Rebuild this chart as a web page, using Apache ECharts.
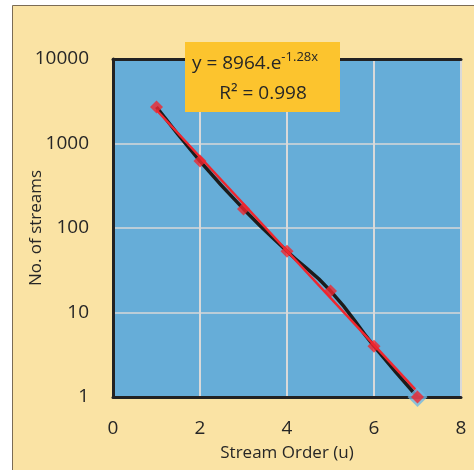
<!DOCTYPE html>
<html>
<head>
<meta charset="utf-8">
<script src="https://cdn.jsdelivr.net/npm/echarts@6/dist/echarts.min.js"></script>
<style>html,body{margin:0;padding:0;background:#fff}#c{width:474px;height:470px}</style>
</head>
<body>
<div id="c"></div>
<script>
const streamOrder = [1, 2, 3, 4, 5, 6, 7];
const streamCount = [2700, 620, 168, 53, 18, 4, 1];
const trendX = [1, 7];
const trendY = [2491, 1.15];
const xTicks = [0, 2, 4, 6, 8];
const yTicks = [1, 10, 100, 1000, 10000];
const equationText = ['y = 8964.e', '-1.28x', 'R² = 0.998'];

const FONT = '"Open Sans", "Noto Sans", sans-serif';
const pts = streamOrder.map((x, i) => [x, streamCount[i]]);
const trend = trendX.map((x, i) => [x, trendY[i]]);
const last = pts[pts.length - 1];

const chart = echarts.init(document.getElementById('c'), null, {renderer: 'canvas'});
chart.setOption({
  backgroundColor: '#ffffff',
  animation: false,
  graphic: [
    {type: 'rect', z: -10, shape: {x: 12.5, y: 5.5, width: 470, height: 470},
     style: {fill: '#FAE3A4', stroke: '#7B6C55', lineWidth: 1}},
    {type: 'rect', zlevel: 2, z: 100, shape: {x: 185, y: 42, width: 155, height: 70},
     style: {fill: '#FCC42E'}},
    {type: 'text', zlevel: 2, z: 101, x: 192, y: 64, style: {
      text: '{a|' + equationText[0] + '}{b|' + equationText[1] + '}',
      verticalAlign: 'middle',
      rich: {
        a: {fontFamily: FONT, fontSize: 19, fill: '#262626'},
        b: {fontFamily: FONT, fontSize: 13, fill: '#262626', verticalAlign: 'top', padding: [0, 0, 14, 0]}
      }}},
    {type: 'text', zlevel: 2, z: 101, x: 263, y: 94, style: {
      text: equationText[2], fontFamily: FONT, fontSize: 19, fill: '#262626',
      align: 'center', verticalAlign: 'middle'}}
  ],
  grid: {left: 113, top: 59, right: 13, bottom: 73, show: true,
         backgroundColor: '#66ADD8', borderWidth: 0},
  xAxis: [
    {type: 'value', min: xTicks[0], max: xTicks[xTicks.length - 1], interval: 2,
     name: 'Stream Order (u)', nameLocation: 'middle', nameGap: 48, nameMoveOverlap: false,
     nameTextStyle: {fontFamily: FONT, fontSize: 17, color: '#262626'},
     axisLine: {show: true, onZero: false, lineStyle: {color: '#222', width: 3}},
     axisTick: {show: false},
     axisLabel: {fontFamily: FONT, fontSize: 19, color: '#262626', margin: 22},
     splitLine: {show: true, lineStyle: {color: '#D9D9D9', width: 2}}},
    {type: 'value', position: 'top', min: xTicks[0], max: xTicks[xTicks.length - 1],
     axisLine: {show: true, onZero: false, lineStyle: {color: '#222', width: 3}},
     axisTick: {show: false}, axisLabel: {show: false}, splitLine: {show: false}}
  ],
  yAxis: [
    {type: 'log', logBase: 10, min: yTicks[0], max: yTicks[yTicks.length - 1],
     name: 'No. of streams', nameLocation: 'middle', nameGap: 68, nameMoveOverlap: false,
     nameTextStyle: {fontFamily: FONT, fontSize: 17, color: '#262626'},
     axisLine: {show: true, lineStyle: {color: '#333', width: 2, type: [1, 1]}},
     axisTick: {show: false},
     axisLabel: {fontFamily: FONT, fontSize: 19, color: '#262626', margin: 24,
                 formatter: v => String(Math.round(v))},
     splitLine: {show: true, lineStyle: {color: '#D9D9D9', width: 1.5}}},
    {type: 'log', logBase: 10, position: 'right', min: yTicks[0], max: yTicks[yTicks.length - 1],
     axisLine: {show: true, lineStyle: {color: '#222', width: 3}},
     axisTick: {show: false}, axisLabel: {show: false}, splitLine: {show: false}}
  ],
  series: [
    {type: 'line', data: pts, smooth: 0.5, showSymbol: false, z: 2,
     lineStyle: {color: '#1C1C1C', width: 3.5}},
    {type: 'line', data: trend, showSymbol: false, z: 3,
     lineStyle: {color: '#F0262E', width: 2.5}},
    {type: 'scatter', data: [last], symbol: 'diamond', symbolSize: 20, z: 4, clip: false,
     itemStyle: {color: '#6FB6E4'}},
    {type: 'scatter', data: pts, symbol: 'diamond', symbolSize: 13, z: 5, clip: false,
     itemStyle: {color: '#F0262E'}}
  ]
});
</script>
</body>
</html>
